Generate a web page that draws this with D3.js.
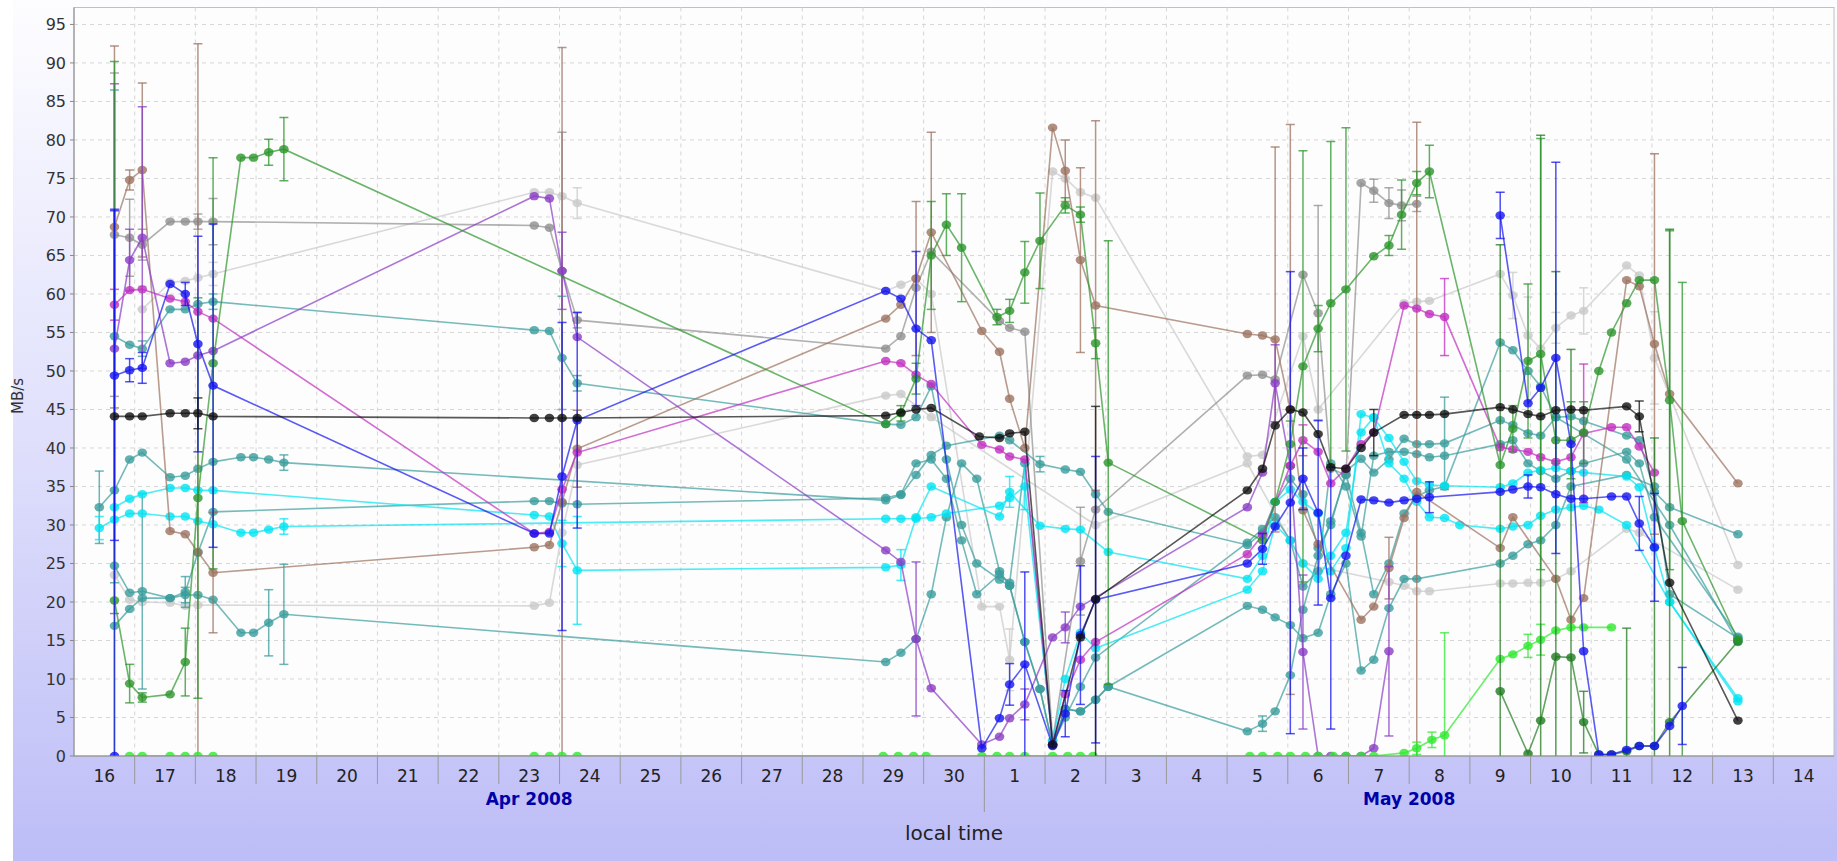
<!DOCTYPE html>
<html>
<head>
<meta charset="utf-8">
<script src="https://cdn.jsdelivr.net/npm/d3@7"></script>
<style>
  body { margin: 0; background: #fff; }
  svg { display: block; font-family: 'DejaVu Sans', sans-serif; }
</style>
</head>
<body>
<script>
// each point: [local time 'M/D H', MB/s, error half-width]
const green = [
  ['4/16 16',20.2,70],['4/16 22',9.4,2.5],['4/17 3',7.6,0.6],['4/17 14',8.0],['4/17 20',12.2,4.4],['4/18 1',33.5,26],['4/18 7',51,26.7],
  ['4/18 18',77.7],['4/18 23',77.7],['4/19 5',78.4,1.7],['4/19 11',78.8,4.1],
  ['4/29 9',43.1],['4/29 15',44.5,1],['4/29 21',49,2],['4/30 3',65,7],['4/30 9',69,4],['4/30 15',66,7],
  ['5/1 5',57,1],['5/1 10',57.8,1.5],['5/1 16',62.8,4],['5/1 22',66.9,6.2],['5/2 8',71.5,1],['5/2 14',70.3,1],['5/2 20',53.6,2],['5/3 1',38.1,28.8],
  ['5/5 14',28],['5/5 19',33],['5/6 1',40.5,3],['5/6 6',50.6,28],['5/6 12',55.5,3],['5/6 17',58.8,21],['5/6 23',60.6,21],
  ['5/7 10',64.9],['5/7 16',66.3,1.3],['5/7 21',70.3,4.5],['5/8 3',74.4,1.5],['5/8 8',75.9,3.4],
  ['5/9 12',37.8],['5/9 17',42.5,3],['5/9 23',51.3,10],['5/10 4',52.2,28],['5/10 10',41,3],['5/10 16',41,5],['5/10 21',42,4],
  ['5/11 3',50],['5/11 8',55],['5/11 14',58.8],['5/11 19',61.8],['5/12 1',61.8],['5/12 7',46.2,22],['5/12 12',30.5,31],['5/13 10',15.1]
]
const darkGreen = [
  ['5/9 12',8.4,58],['5/9 23',0.3],['5/10 4',4.6,76],['5/10 10',12.9,50],['5/10 16',12.8,40],['5/10 21',4.4,4],
  ['5/11 3',0.2],['5/11 8',0.2],['5/11 14',0.6,16],['5/11 19',1.3],['5/12 1',1.3,40],['5/12 7',4.4,64],['5/13 10',14.9]
]
const lime = [
  ['4/16 22',0],['4/17 3',0],['4/17 14',0],['4/17 20',0],['4/18 1',0],['4/18 7',0],
  ['4/23 14',0],['4/23 20',0],['4/24 1',0],['4/24 7',0],
  ['4/29 8',0],['4/29 14',0],['4/29 20',0],['4/30 1',0],['4/30 23',0],['5/1 5',0],['5/1 10',0],['5/1 16',0],
  ['5/2 3',0],['5/2 9',0],['5/2 14',0],['5/2 19',0],
  ['5/5 9',0],['5/5 14',0],['5/5 20',0],['5/6 1',0],['5/6 7',0],['5/6 12',0],['5/6 18',0],['5/6 23',0],['5/7 5',0],['5/7 10',0],
  ['5/7 22',0.4],['5/8 3',1.0,0.8],['5/8 9',2.1,1],['5/8 14',2.7,13.3],
  ['5/9 12',12.6],['5/9 17',13.2],['5/9 23',14.3,1.5],['5/10 4',15.1,2],['5/10 10',16.3],['5/10 16',16.7],['5/10 21',16.7],['5/11 8',16.7]
]
const gray = [
  ['4/16 16',67.7,21],['4/16 22',67.3,5],['4/17 3',66.4,2],['4/17 14',69.4],['4/17 20',69.4],['4/18 1',69.4,1],['4/18 7',69.4,3],
  ['4/23 14',68.9],['4/23 20',68.6],['4/24 1',63,18],['4/24 7',56.6,1],
  ['4/29 9',52.9],['4/29 15',54.5],['4/29 21',60.8],['4/30 3',65.5],['5/1 6',56.5],['5/1 10',55.6],['5/1 16',55.1],
  ['5/2 3',2],['5/2 14',25.3,7],['5/2 20',32],
  ['5/5 8',49.4],['5/5 14',49.5],['5/5 19',48.9],['5/6 6',62.5],['5/6 12',57.5,14],['5/6 17',37.3],['5/6 23',36.5],
  ['5/7 5',74.4],['5/7 10',73.4,1.5],['5/7 16',71.8,2],['5/7 21',71.5,2],['5/8 3',71.7,1]
]
const lightGray = [
  ['4/17 3',58,3],['4/17 14',61.5],['4/17 20',61.7],['4/18 1',62.1],['4/18 7',62.6,1.5],
  ['4/23 14',73.2],['4/23 20',73.2],['4/24 1',72.7],['4/24 7',71.8,2],
  ['4/29 9',60.4],['4/29 15',61.2],['4/29 21',62],['4/30 3',60],['4/30 23',19.4],['5/1 6',19.4],['5/1 10',12.5,4],
  ['5/2 3',75.9],['5/2 8',75.0],['5/2 14',73.2],['5/2 20',72.5],
  ['5/5 8',38.9],['5/5 14',39.1],['5/6 6',54.5],['5/6 12',45],['5/7 22',58.8],['5/8 3',59.0],['5/8 8',59.1],
  ['5/9 12',62.6],['5/9 17',59.8,3],['5/9 23',54.6,5],['5/10 4',52.9],['5/10 10',55.6,2],['5/10 16',57.2],['5/10 21',57.8,3],
  ['5/11 14',63.7],['5/11 19',62.4],['5/12 1',51.7,6],['5/13 10',24.8]
]
const lightGray2 = [
  ['4/16 16',23.5],['4/16 22',20.3],['4/17 3',20],['4/17 14',19.9],['4/17 20',19.5],['4/18 1',19.6],
  ['4/23 14',19.5],['4/23 20',19.9],['4/24 1',29],['4/24 7',37.8],
  ['4/29 9',46.8],['4/29 15',47],['4/30 3',44],['5/2 20',30],['5/5 8',38],['5/6 6',25],
  ['5/7 16',22.6],['5/7 22',22.1],['5/8 3',21.4],['5/8 8',21.4],
  ['5/9 12',22.4],['5/9 17',22.4],['5/9 23',22.5],['5/10 4',22.5],['5/10 10',23],['5/10 16',24],['5/11 14',29.5],['5/11 19',29],['5/13 10',21.6]
]
const brown = [
  ['4/16 16',68.7,23.5],['4/16 22',74.8,1.3],['4/17 3',76.1,11.3],['4/17 14',29.2],['4/17 20',28.8],['4/18 1',26.5,66],['4/18 7',23.8,7.8],
  ['4/23 14',27.1],['4/23 20',27.4],['4/24 1',33,59],['4/24 7',39.9,5],
  ['4/29 9',56.8],['4/29 15',58.6],['4/29 21',62,10],['4/30 3',68,13],
  ['4/30 23',55.2],['5/1 6',52.5],['5/1 10',46.4],['5/1 16',40],['5/2 3',81.6],['5/2 8',76,4],['5/2 14',64.4,12],['5/2 20',58.5,24],
  ['5/5 8',54.8],['5/5 14',54.6],['5/5 19',54.1,25],['5/6 1',45,37],['5/6 6',31.9],['5/6 12',27.5],
  ['5/7 5',17.7],['5/7 10',19.4],['5/7 16',24.4,4],['5/7 22',30.9],['5/8 3',34.3,48],
  ['5/9 12',27],['5/9 17',31],['5/10 10',23],['5/10 16',17.7],['5/10 21',20.5],
  ['5/11 14',61.8],['5/11 19',61],['5/12 1',53.5,24.7],['5/12 7',47],['5/13 10',35.4]
]
const violet = [
  ['4/16 16',52.9,34.4],['4/16 22',64.4,4],['4/17 3',67.3,17],['4/17 14',51.0],['4/17 20',51.2],['4/18 1',52],['4/18 7',52.6],
  ['4/23 14',72.7],['4/23 20',72.4],['4/24 1',63,5],['4/24 7',54.4],
  ['4/29 9',26.7],['4/29 15',25.2],['4/29 21',15.2,10],['4/30 3',8.8],['4/30 23',1.5],['5/1 6',2.5],['5/1 10',4.9],['5/1 16',6.7,2],
  ['5/2 3',15.4],['5/2 8',16.7,2],['5/2 14',19.4],
  ['5/5 8',32.3],['5/5 14',36.8],['5/5 19',48.4,5],['5/6 1',37.7],['5/6 6',13.5,10],['5/6 12',0],['5/6 17',0],['5/6 23',0],
  ['5/7 5',0],['5/7 10',1.0],['5/7 16',13.6,11]
]
const magenta = [
  ['4/16 16',58.6,2],['4/16 22',60.5],['4/17 3',60.6],['4/17 14',59.4],['4/17 20',59.0],['4/18 1',57.7],['4/18 7',56.8],
  ['4/23 14',28.9],['4/23 20',29.1],['4/24 1',34.6],['4/24 7',39.4],
  ['4/29 9',51.3],['4/29 15',51],['4/29 21',49.5],['4/30 3',48.3],['4/30 23',40.4],['5/1 6',39.8],['5/1 10',38.9],['5/1 16',38.5],
  ['5/2 3',1.5],['5/2 8',8],['5/2 14',12.5],['5/2 20',14.8],
  ['5/5 8',26.2],['5/5 14',28.7],['5/6 1',37.7],['5/6 6',41.0,2],['5/6 12',39.5],['5/6 17',35.4],['5/6 23',37.3],['5/7 5',40.5],['5/7 10',42],
  ['5/7 22',58.5],['5/8 3',58.1],['5/8 8',57.4],['5/8 14',57.0,5],
  ['5/9 12',40.1],['5/9 17',39.8],['5/9 23',39.5],['5/10 4',38.8],['5/10 10',38.2],['5/10 16',38.8],['5/10 21',41.9,9],
  ['5/11 8',42.7],['5/11 14',42.7],['5/11 19',40.2],['5/12 1',36.8]
]
const blue = [
  ['4/16 16',49.4,21.4],['4/16 22',50.1,1.5],['4/17 3',50.4,2],['4/17 14',61.3],['4/17 20',60.0,1.5],['4/18 1',53.5,14],['4/18 7',48.1,21],
  ['4/23 14',28.9],['4/23 20',28.9],['4/24 1',36.3,20],['4/24 7',43.6,14],
  ['4/29 9',60.4],['4/29 15',59.4],['4/29 21',55.5,10],['4/30 3',54],['4/30 23',1.0],
  ['5/1 6',4.9],['5/1 10',9.3,2.7],['5/1 16',11.9,12],['5/2 3',1.3],['5/2 8',5.5,3],['5/2 14',15.7,9],['5/2 20',20.3,18.6],
  ['5/5 8',25],['5/5 14',26.9,2],['5/5 19',29.8],['5/6 1',32.9,30],['5/6 6',36,4],['5/6 12',31.6,12],['5/6 17',20.5,17],['5/6 23',26],
  ['5/7 5',33.3],['5/7 10',33.2],['5/7 16',32.9],['5/7 22',33.2],['5/8 3',33.4],['5/8 8',33.6,2],
  ['5/9 12',34.3],['5/9 17',34.6],['5/9 23',35,1.5],['5/10 4',34.9],['5/10 10',34],['5/10 16',33.4],['5/10 21',33.4],
  ['5/11 8',33.7],['5/11 14',33.7],['5/11 19',30.2,3.5],['5/12 1',27.1,7]
]
const blue2 = [
  ['5/9 12',70.2,3],['5/9 23',45.8],['5/10 4',47.8],['5/10 10',51.7,25.4],['5/10 16',40.5],['5/10 21',13.6],
  ['5/11 3',0.2],['5/11 8',0.2],['5/11 14',0.8],['5/11 19',1.3],['5/12 1',1.3],['5/12 7',3.9],['5/12 12',6.5,5]
]
const blue3 = [['4/16 16',0,71]]
const teal1 = [
  ['4/16 10',32.3,4.7],['4/16 16',34.5],['4/16 22',38.5],['4/17 3',39.4],['4/17 14',36.2],['4/17 20',36.4],['4/18 1',37.3],['4/18 7',38.2],
  ['4/18 18',38.8],['4/18 23',38.8],['4/19 5',38.5],['4/19 11',38.1,1],
  ['4/29 9',33.2],['4/29 15',33.9],['4/29 21',36.5],['4/30 3',39.1],['4/30 9',40.3],['5/1 6',41.6],['5/1 10',41],
  ['5/1 22',37.9,1],['5/2 8',37.2],['5/2 14',36.9],['5/2 20',34],['5/3 1',31.7],
  ['5/5 8',27.4],['5/5 14',29],['5/5 19',33],['5/6 1',36],['5/6 6',34],['5/6 12',27],['5/6 17',30],['5/6 23',37],
  ['5/7 5',38.6],['5/7 10',36.8],['5/7 16',38.5],['5/7 22',41.2],['5/8 3',40.5],['5/8 8',40.5],['5/8 14',40.6,6],
  ['5/9 12',43.6],['5/9 17',43],['5/9 23',41.9],['5/10 4',41.6],['5/10 10',44],['5/10 16',44.1],['5/10 21',43.5],
  ['5/11 14',41.6],['5/11 19',41],['5/12 1',34.3],['5/12 7',32.3],['5/13 10',28.8]
]
const teal2 = [
  ['4/16 16',54.5,32],['4/16 22',53.4],['4/17 3',52.9,1],['4/17 14',58],['4/17 20',58],['4/18 1',58.7],['4/18 7',59.0,1],
  ['4/23 14',55.3],['4/23 20',55.2],['4/24 1',51.7,8],['4/24 7',48.4,1],
  ['4/29 9',43.1],['4/29 15',43.0],['4/29 21',44],['4/30 3',48],['4/30 9',38.5],['4/30 15',30],['4/30 21',25],
  ['5/1 6',22.9],['5/1 10',22.1],['5/1 16',14.8],['5/1 22',8.7],['5/2 3',1.4],['5/2 8',6.1],['5/2 14',5.8],['5/2 20',7.3],['5/3 1',9],
  ['5/5 8',3.2],['5/5 14',4.2,1],['5/5 19',5.8],['5/6 1',10.5],['5/6 6',19],['5/6 12',26],['5/6 17',30.5],['5/6 23',36.5],
  ['5/7 5',29],['5/7 10',21],['5/7 16',25],['5/7 22',31.5],['5/8 3',33.7],['5/8 8',34.5],['5/8 14',35],
  ['5/9 12',53.7],['5/9 17',52.7],['5/9 23',50],['5/10 4',48],['5/10 10',44],['5/11 14',38.5],['5/12 7',30],['5/13 10',14.8]
]
const teal3 = [
  ['4/16 16',16.9],['4/16 22',19.1],['4/17 3',20.5],['4/17 14',20.5],['4/17 20',20.9,1],['4/18 1',20.9],['4/18 7',20.3],
  ['4/18 18',16],['4/18 23',16],['4/19 5',17.3,4.3],['4/19 11',18.4,6.5],
  ['4/29 9',12.2],['4/29 15',13.4],['4/29 21',15.2],['4/30 3',21],['4/30 9',31],['4/30 15',38],['4/30 21',36],
  ['5/1 6',24],['5/1 10',22.1],['5/1 16',14.8],['5/1 22',8.7],['5/2 3',1.4],['5/2 8',6.1],['5/2 14',5.8],['5/2 20',7.3],['5/3 1',9],
  ['5/5 8',19.5],['5/5 14',19],['5/5 19',18],['5/6 1',17],['5/6 6',15.3],['5/6 12',16],['5/6 17',21],['5/6 23',25],
  ['5/7 5',11.1],['5/7 10',12.5],['5/7 16',19.2],['5/7 22',23],['5/8 3',23],
  ['5/9 12',25],['5/9 17',26],['5/9 23',27.5],['5/10 4',28],['5/10 10',30],['5/10 16',35],['5/11 14',36.5],['5/12 1',35],['5/12 7',21],['5/13 10',15.3]
]
const teal4 = [
  ['4/16 16',24.7],['4/16 22',21.2],['4/17 3',21.4,12.7],['4/17 14',20.5],['4/17 20',21.3,2],['4/18 1',26.4],['4/18 7',31.7],
  ['4/23 14',33.1],['4/23 20',33.1],['4/24 1',32.8],['4/24 7',32.7],
  ['4/29 9',33.5],['4/29 15',34],['4/29 21',38],['4/30 3',38.5],['4/30 9',36],['4/30 15',28],['4/30 21',21],
  ['5/1 6',23.6],['5/1 10',22.5],['5/1 16',38],['5/2 3',1.5],['5/2 8',5],['5/2 14',9],['5/2 20',12.8],
  ['5/5 8',27.7],['5/5 14',29.5],['5/5 19',31],['5/6 1',28],['5/6 6',22],['5/6 12',24],['5/6 17',38],['5/6 23',35],
  ['5/7 5',28.5],['5/7 10',39],['5/7 16',39.5],['5/7 22',39.5],['5/8 3',39.2],['5/8 8',38.8],['5/8 14',39],
  ['5/9 12',40.5],['5/9 17',41],['5/9 23',38],['5/10 4',37],['5/10 10',36],['5/10 16',37],['5/10 21',38],
  ['5/11 14',39.5],['5/11 19',38],['5/12 1',31],['5/13 10',15.5]
]
const cyan1 = [
  ['4/16 16',32.3],['4/16 22',33.4],['4/17 3',34.0],['4/17 14',34.8],['4/17 20',34.8],['4/18 1',34.5],['4/18 7',34.5],
  ['4/23 14',31.3],['4/23 20',31.1],['4/24 1',27.6,3],['4/24 7',24.1,7],
  ['4/29 9',24.5],['4/29 15',24.8,2],['4/29 21',31],['4/30 3',35],
  ['5/1 6',31.1],['5/1 10',34.3,2],['5/1 22',29.9],['5/2 8',29.5],['5/2 14',29.4],['5/3 1',26.5],
  ['5/5 8',23],['5/5 14',26],['5/5 19',33],['5/6 1',34.6],['5/6 6',33],['5/6 12',31.5],['5/6 17',24],['5/6 23',27],
  ['5/7 5',44.4],['5/7 10',43.9],['5/7 16',41.3],['5/7 22',38.2],['5/8 3',35.7],['5/8 8',35.2],['5/8 14',35.1],
  ['5/9 12',34.9],['5/9 17',35.4],['5/9 23',36.8],['5/10 4',37.1],['5/10 10',37.4],['5/10 16',37],['5/10 21',36.8],
  ['5/11 14',36.3],['5/11 19',34.9],['5/12 1',27],['5/12 7',20],['5/13 10',7.5]
]
const cyan2 = [
  ['4/16 10',29.6,1.5],['4/16 16',30.7],['4/16 22',31.5],['4/17 3',31.5],['4/17 14',31.1],['4/17 20',31.1],['4/18 1',30.5],['4/18 7',30.1],
  ['4/18 18',29.0],['4/18 23',29.0],['4/19 5',29.4],['4/19 11',29.8,1],
  ['4/29 9',30.8],['4/29 15',30.8],['4/29 21',30.8],['4/30 3',31],['4/30 9',31.5],
  ['5/1 6',32.5],['5/1 10',33.5],['5/1 16',35.0,3],['5/2 3',2],['5/2 8',10],['5/2 14',16],['5/2 20',14],
  ['5/5 8',21.6],['5/5 14',24],['5/5 19',30],['5/6 1',28],['5/6 6',25],['5/6 12',23],['5/6 17',26],['5/6 23',29],
  ['5/7 5',42],['5/7 10',44],['5/7 16',38],['5/7 22',36],['5/8 3',33],['5/8 8',31],['5/8 14',30.9],['5/8 20',30],
  ['5/9 12',29.5],['5/9 17',29.8],['5/9 23',30],['5/10 4',31.2],['5/10 10',32],['5/10 16',32.3],['5/10 21',32.5],
  ['5/11 3',32],['5/11 14',30],['5/12 7',20],['5/13 10',7.1]
]
const black = [
  ['4/16 16',44.1],['4/16 22',44.1],['4/17 3',44.1],['4/17 14',44.5],['4/17 20',44.5],['4/18 1',44.5,2],['4/18 7',44.1],
  ['4/23 14',43.9],['4/23 20',43.9],['4/24 1',43.9],['4/24 7',43.9],
  ['4/29 9',44.2],['4/29 15',44.6],['4/29 21',45],['4/30 3',45.2],['4/30 22',41.5],['5/1 6',41.3],['5/1 10',41.9],['5/1 16',42.1],
  ['5/2 3',1.5],['5/2 14',15.4],['5/2 20',20.4,25],
  ['5/5 8',34.5],['5/5 14',37.3],['5/5 19',42.9],['5/6 1',45.0],['5/6 6',44.6],['5/6 12',41.8],['5/6 17',37.5],['5/6 23',37.3],
  ['5/7 5',40.0],['5/7 10',42.0,3],['5/7 22',44.3],['5/8 3',44.3],['5/8 8',44.3],['5/8 14',44.4],
  ['5/9 12',45.3],['5/9 17',45.0],['5/9 23',44.4],['5/10 4',44.1],['5/10 10',44.9],['5/10 16',45.0],['5/10 21',44.9],
  ['5/11 14',45.4],['5/11 19',44.1,2],['5/12 7',22.5],['5/13 10',4.6]
]

const dayLabels = d3.range(16, 31).concat(d3.range(1, 15)).map(String)
const monthLabels = ['Apr 2008', 'May 2008']
const yTicks = d3.range(0, 100, 5)

const series = [
  {pts: lightGray2, color: '#c9c9c9'},
  {pts: lightGray, color: '#c9c9c9'},
  {pts: gray, color: '#8f8f8f'},
  {pts: teal3, color: '#3a9c9c'},
  {pts: teal4, color: '#3a9c9c'},
  {pts: teal2, color: '#3a9c9c'},
  {pts: teal1, color: '#3a9c9c'},
  {pts: cyan2, color: '#00e4f2'},
  {pts: cyan1, color: '#00e4f2'},
  {pts: brown, color: '#9c7260'},
  {pts: violet, color: '#8a3cc4'},
  {pts: magenta, color: '#c02ec0'},
  {pts: lime, color: '#2ee82e'},
  {pts: darkGreen, color: '#1f7a1f'},
  {pts: green, color: '#2c952c'},
  {pts: blue3, color: '#1414f0'},
  {pts: blue, color: '#1414f0'},
  {pts: blue2, color: '#1414f0'},
  {pts: black, color: '#101010'}
]

const parseT = s => d3.timeParse('%Y/%m/%d %H')('2008/' + s)

const width = 1837, height = 861
const svg = d3.select('body').append('svg')
    .attr('width', width).attr('height', height)

const defs = svg.append('defs')
const grad = defs.append('linearGradient').attr('id', 'bg')
    .attr('x1', 0).attr('y1', 0).attr('x2', 0).attr('y2', 1)
grad.append('stop').attr('offset', '0%').attr('stop-color', '#fdfdff')
grad.append('stop').attr('offset', '50%').attr('stop-color', '#e0e0fc')
grad.append('stop').attr('offset', '100%').attr('stop-color', '#bdbdf7')

svg.append('rect').attr('width', width).attr('height', height).attr('fill', '#fff')
svg.append('rect').attr('x', 13).attr('width', width - 13).attr('height', height).attr('fill', 'url(#bg)')

const x = d3.scaleTime()
    .domain([new Date(2008, 3, 16), new Date(2008, 4, 15)])
    .range([74, 1834])
const y = d3.scaleLinear().domain([0, 97.2]).range([756, 7.5])

const xLeft = x.range()[0], xRight = x.range()[1]
const yTop = y.range()[1], yBottom = y.range()[0]

defs.append('clipPath').attr('id', 'plot')
  .append('rect').attr('x', xLeft).attr('y', yTop).attr('width', xRight - xLeft).attr('height', yBottom - yTop)

svg.append('rect')
    .attr('x', xLeft).attr('y', yTop).attr('width', xRight - xLeft).attr('height', yBottom - yTop)
    .attr('fill', '#fdfdfd').attr('stroke', '#c0c0c0')

// grid
const days = d3.timeDay.range(new Date(2008, 3, 17), new Date(2008, 4, 15))
svg.append('g').selectAll('line').data(days).join('line')
    .attr('x1', d => x(d)).attr('x2', d => x(d))
    .attr('y1', yTop).attr('y2', yBottom)
    .attr('stroke', '#d6d6d6').attr('stroke-dasharray', '4,4')
svg.append('g').selectAll('line').data(yTicks.slice(1)).join('line')
    .attr('x1', xLeft).attr('x2', xRight)
    .attr('y1', d => y(d)).attr('y2', d => y(d))
    .attr('stroke', '#d6d6d6').attr('stroke-dasharray', '4,4')

// series
const plot = svg.append('g').attr('clip-path', 'url(#plot)')
const yMax = y.domain()[1]
series.forEach(function(s) {
  const pts = s.pts.map(p => ({t: parseT(p[0]), v: p[1], e: p[2] || 0}))
  const g = plot.append('g')
  g.append('path')
      .datum(pts)
      .attr('d', d3.line().x(d => x(d.t)).y(d => y(d.v)))
      .attr('fill', 'none')
      .attr('stroke', s.color)
      .attr('stroke-width', 1.6)
      .attr('stroke-opacity', 0.7)
  const eb = g.selectAll('.eb').data(pts.filter(d => d.e > 0)).join('g')
      .attr('stroke', s.color).attr('stroke-width', 1.5).attr('stroke-opacity', 0.75)
  eb.append('line')
      .attr('x1', d => x(d.t)).attr('x2', d => x(d.t))
      .attr('y1', d => y(Math.max(0, d.v - d.e)))
      .attr('y2', d => y(Math.min(yMax + 1, d.v + d.e)))
  eb.filter(d => d.v + d.e < yMax).append('line')
      .attr('x1', d => x(d.t) - 4.5).attr('x2', d => x(d.t) + 4.5)
      .attr('y1', d => y(d.v + d.e)).attr('y2', d => y(d.v + d.e))
  eb.filter(d => d.v - d.e > 0).append('line')
      .attr('x1', d => x(d.t) - 4.5).attr('x2', d => x(d.t) + 4.5)
      .attr('y1', d => y(d.v - d.e)).attr('y2', d => y(d.v - d.e))
  g.selectAll('ellipse').data(pts).join('ellipse')
      .attr('cx', d => x(d.t)).attr('cy', d => y(d.v))
      .attr('rx', 4.8).attr('ry', 4.2)
      .attr('fill', s.color).attr('fill-opacity', 0.8)
})

// y axis
const yAxis = svg.append('g')
yAxis.append('line').attr('x1', xLeft).attr('x2', xLeft).attr('y1', yTop).attr('y2', yBottom).attr('stroke', '#888')
yAxis.selectAll('.tk').data(yTicks).join('line')
    .attr('x1', xLeft - 4).attr('x2', xLeft).attr('y1', d => y(d)).attr('y2', d => y(d)).attr('stroke', '#888')
yAxis.selectAll('text').data(yTicks).join('text')
    .attr('x', xLeft - 8).attr('y', d => y(d)).attr('dy', '0.36em')
    .attr('text-anchor', 'end').attr('font-size', 16).attr('fill', '#333')
    .text(d => d)
svg.append('text')
    .attr('transform', 'translate(23,396) rotate(-90)')
    .attr('text-anchor', 'middle').attr('font-size', 15).attr('fill', '#333')
    .text('MB/s')

// x axis
const xAxis = svg.append('g')
xAxis.append('line').attr('x1', xLeft).attr('x2', xRight).attr('y1', yBottom).attr('y2', yBottom).attr('stroke', '#888')
xAxis.selectAll('.tk').data(days).join('line')
    .attr('x1', d => x(d)).attr('x2', d => x(d))
    .attr('y1', yBottom).attr('y2', d => d.getMonth() === 4 && d.getDate() === 1 ? 812 : 784)
    .attr('stroke', '#999')
const noons = d3.timeDay.range(new Date(2008, 3, 16), new Date(2008, 4, 15)).map(d => d3.timeHour.offset(d, 12))
xAxis.selectAll('.dl').data(noons).join('text')
    .attr('x', d => x(d)).attr('y', 782)
    .attr('text-anchor', 'middle').attr('font-size', 17).attr('fill', '#222')
    .text((d, i) => dayLabels[i])
const monthMid = [new Date(2008, 3, 23, 12), new Date(2008, 4, 8)]
xAxis.selectAll('.ml').data(monthMid).join('text')
    .attr('x', d => x(d)).attr('y', 805)
    .attr('text-anchor', 'middle').attr('font-size', 17).attr('font-weight', 'bold').attr('fill', '#0000a8')
    .text((d, i) => monthLabels[i])
svg.append('text')
    .attr('x', (xLeft + xRight) / 2).attr('y', 840)
    .attr('text-anchor', 'middle').attr('font-size', 20).attr('fill', '#222')
    .text('local time')
</script>
</body>
</html>
